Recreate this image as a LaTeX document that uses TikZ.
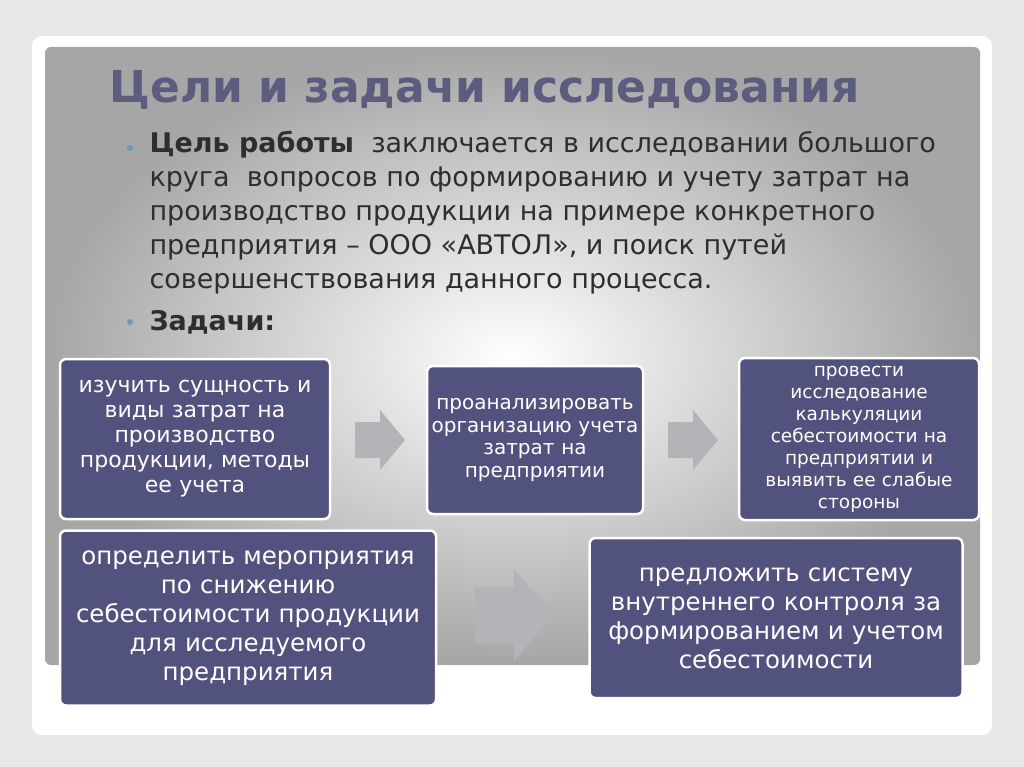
\documentclass[tikz,border=0pt]{standalone}
\usepackage{fontspec}
\setmainfont{DejaVu Sans}
\usetikzlibrary{positioning, calc}
\definecolor{boxfill}{HTML}{52527E}
\definecolor{titlecol}{HTML}{5C5C7E}
\definecolor{bodytext}{HTML}{2E2E2E}
\definecolor{arrowgray}{HTML}{B4B4B8}
\definecolor{dotcol}{HTML}{6A9CB0}
\tikzset{
  task/.style={draw=white, line width=2.5pt, fill=boxfill, rounded corners=6pt,
    text=white, align=center, inner sep=3pt},
  bullet/.style={circle, fill=dotcol, inner sep=0pt, minimum size=6pt}
}
% block arrow: centre, half length, half shaft, half head
\newcommand{\blockarr}[4]{%
  \fill[arrowgray] ($(#1)+(-#2,-#3)$) -- ($(#1)+(0,-#3)$) -- ($(#1)+(0,-#4)$)
    -- ($(#1)+(#2,0)$) -- ($(#1)+(0,#4)$) -- ($(#1)+(0,#3)$) -- ($(#1)+(-#2,#3)$) -- cycle;}
\begin{document}
\begin{tikzpicture}[x=1pt, y=-1pt]
  % page and panel
  \fill[gray!18] (0,0) rectangle (1024,767);
  \fill[white, rounded corners=10pt] (32,36) rectangle (992,735);
  \shade[inner color=white, outer color=gray!70, rounded corners=6pt] (45,47) rectangle (980,665);
  \useasboundingbox (0,0) rectangle (1024,767);

  % title and text
  \node[anchor=west, text=titlecol, font=\fontsize{44}{46}\selectfont\bfseries] (title) at (106,90) {Цели и задачи исследования};
  \node[bullet] (b1) at (130,148) {};
  \node[anchor=north west, text=bodytext, align=left, font=\fontsize{27}{33.8}\selectfont] (goal) at (146,128)
    {\textbf{Цель работы} \ заключается в исследовании большого\\
     круга \ вопросов по формированию и учету затрат на\\
     производство продукции на примере конкретного\\
     предприятия – ООО «АВТОЛ», и поиск путей\\
     совершенствования данного процесса.};
  \node[bullet] (b2) at (130,322) {};
  \node[anchor=west, text=bodytext, font=\fontsize{27}{28}\selectfont\bfseries] (tasks) at (146,322) {Задачи:};

  % task boxes
  \node[task, minimum width=270pt, minimum height=160pt, text width=264pt, font=\fontsize{22}{25}\selectfont] (t1) at (195,439)
    {изучить сущность и\\ виды затрат на\\ производство\\ продукции, методы\\ ее учета};
  \node[task, minimum width=214pt, minimum height=148pt, text width=210pt, font=\fontsize{20}{22.5}\selectfont] (t2) at (535,440)
    {проанализировать\\ организацию учета\\ затрат на\\ предприятии};
  \node[task, minimum width=238pt, minimum height=162pt, text width=234pt, font=\fontsize{18.5}{22}\selectfont] (t3) at (859,439)
    {провести\\ исследование\\ калькуляции\\ себестоимости на\\ предприятии и\\ выявить ее слабые\\ стороны};
  \node[task, minimum width=375pt, minimum height=175pt, text width=370pt, font=\fontsize{24.5}{29}\selectfont] (t4) at (248,618)
    {определить мероприятия\\ по снижению\\ себестоимости продукции\\ для исследуемого\\ предприятия};
  \node[task, minimum width=372pt, minimum height=160pt, text width=367pt, font=\fontsize{24.5}{29}\selectfont] (t5) at (776,618)
    {предложить систему\\ внутреннего контроля за\\ формированием и учетом\\ себестоимости};

  % arrows
  \coordinate (a1) at (380,440);
  \coordinate (a2) at (693,440);
  \coordinate (a3) at (514,615);
  \blockarr{a1}{25}{18}{30}
  \blockarr{a2}{25}{18}{30}
  \blockarr{a3}{39}{28}{46}
\end{tikzpicture}
\end{document}
